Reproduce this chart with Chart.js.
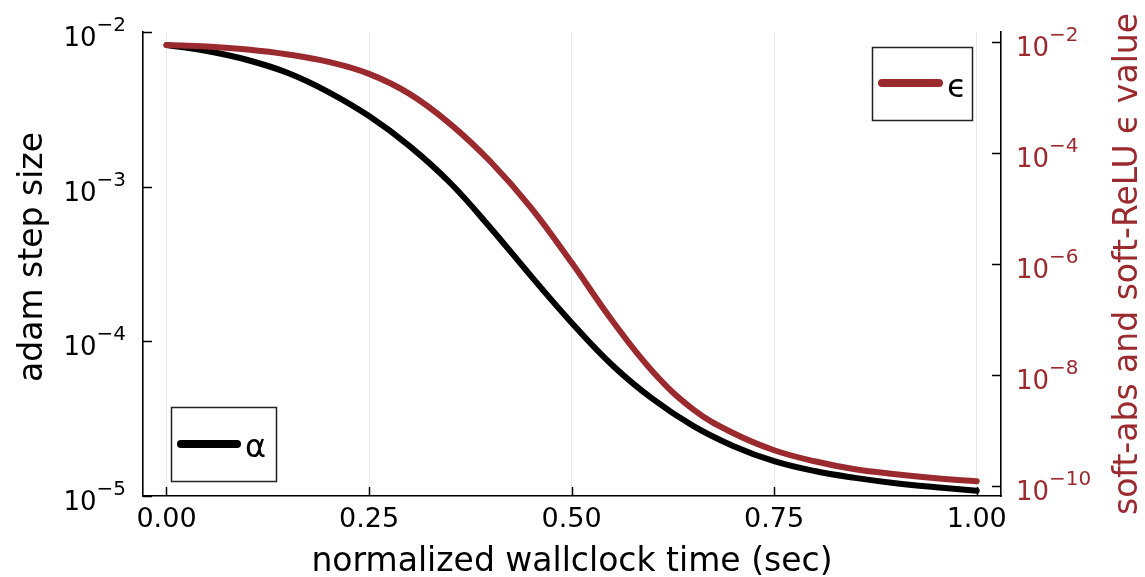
<!DOCTYPE html>
<html>
<head>
<meta charset="utf-8">
<script src="https://cdn.jsdelivr.net/npm/chart.js@4.4.1/dist/chart.umd.min.js"></script>
<style>
html,body{margin:0;padding:0;background:#fff;overflow:hidden}
#wrap{width:1145px;height:577px;position:relative}
</style>
</head>
<body>
<div id="wrap"><canvas id="c" width="1145" height="577"></canvas></div>
<script>
// ---- data ----
const timeValues = [0, 0.05, 0.10, 0.15, 0.20, 0.25, 0.30, 0.35, 0.40, 0.45, 0.50,
                    0.55, 0.60, 0.65, 0.70, 0.75, 0.80, 0.85, 0.90, 0.95, 1.00];
const alphaValues = [8.24e-3, 7.53e-3, 6.59e-3, 5.43e-3, 4.09e-3, 2.86e-3, 1.83e-3, 1.06e-3,
                     5.41e-4, 2.64e-4, 1.32e-4, 7.03e-5, 4.24e-5, 2.84e-5, 2.10e-5, 1.68e-5,
                     1.45e-5, 1.31e-5, 1.21e-5, 1.14e-5, 1.08e-5];
const epsilonValues = [8.83e-3, 8.30e-3, 7.33e-3, 5.96e-3, 4.37e-3, 2.66e-3, 1.16e-3, 3.35e-4,
                       6.95e-5, 1.03e-5, 1.06e-6, 9.59e-8, 1.16e-8, 2.41e-9, 8.91e-10, 4.41e-10,
                       2.79e-10, 2.00e-10, 1.63e-10, 1.38e-10, 1.22e-10];
const xTickValues = [0, 0.25, 0.5, 0.75, 1.0];
const xTickLabels = ['0.00', '0.25', '0.50', '0.75', '1.00'];
const leftTickExponents = [-5, -4, -3, -2];
const rightTickExponents = [-10, -8, -6, -4, -2];
const seriesNames = ['α', 'ϵ'];
const xTitle = 'normalized wallclock time (sec)';
const leftTitle = 'adam step size';
const rightTitle = 'soft-abs and soft-ReLU ϵ value';

const RED = '#9b2a2f';
const FONT = "'DejaVu Sans', sans-serif";

function sup(n) { return '\u2212' + String(Math.abs(n)); }

const decor = {
  id: 'decor',
  afterDraw(chart) {
    const ctx = chart.ctx;
    const xs = chart.scales.x, yl = chart.scales.y, yr = chart.scales.y2;
    const ca = chart.chartArea;
    ctx.save();
    // inward tick marks
    ctx.strokeStyle = '#000';
    ctx.lineWidth = 1.5;
    ctx.beginPath();
    xTickValues.forEach(v => {
      const px = Math.round(xs.getPixelForValue(v)) + 0.5;
      ctx.moveTo(px, ca.bottom); ctx.lineTo(px, ca.bottom - 9);
    });
    leftTickExponents.forEach(e => {
      const py = Math.round(yl.getPixelForValue(Math.pow(10, e))) + 0.5;
      ctx.moveTo(ca.left, py); ctx.lineTo(ca.left + 9, py);
    });
    rightTickExponents.forEach(e => {
      const py = Math.round(yr.getPixelForValue(Math.pow(10, e))) + 0.5;
      ctx.moveTo(ca.right, py); ctx.lineTo(ca.right - 9, py);
    });
    ctx.stroke();

    // y tick labels with superscript exponents
    const drawPow = (e, y, xRight, xLeft, color) => {
      ctx.fillStyle = color;
      ctx.textBaseline = 'alphabetic';
      ctx.textAlign = 'left';
      ctx.font = '26px ' + FONT;
      const bw = ctx.measureText('10').width;
      ctx.font = '20px ' + FONT;
      const ew = ctx.measureText(sup(e)).width;
      const x0 = xRight !== null ? xRight - ew - bw : xLeft;
      ctx.font = '26px ' + FONT;
      ctx.fillText('10', x0, y + 14);
      ctx.font = '20px ' + FONT;
      ctx.fillText(sup(e), x0 + bw, y - 1);
    };
    leftTickExponents.forEach(e => drawPow(e, yl.getPixelForValue(Math.pow(10, e)), 126, null, '#000'));
    rightTickExponents.forEach(e => drawPow(e, yr.getPixelForValue(Math.pow(10, e)), null, 1016, RED));

    // y titles
    ctx.font = '33px ' + FONT;
    ctx.textAlign = 'center';
    ctx.textBaseline = 'alphabetic';
    ctx.fillStyle = '#000';
    ctx.save();
    ctx.translate(42, 257);
    ctx.rotate(-Math.PI / 2);
    ctx.fillText(leftTitle, 0, 0);
    ctx.restore();
    ctx.fillStyle = RED;
    ctx.save();
    ctx.translate(1137, 264);
    ctx.rotate(-Math.PI / 2);
    ctx.fillText(rightTitle, 0, 0);
    ctx.restore();

    // legends
    const legend = (bx, by, bw, bh, color, label, ly, lx0, lx1, tx, ty) => {
      ctx.fillStyle = '#fff';
      ctx.fillRect(bx, by, bw, bh);
      ctx.strokeStyle = '#222';
      ctx.lineWidth = 1.5;
      ctx.strokeRect(bx + 0.5, by + 0.5, bw, bh);
      ctx.strokeStyle = color;
      ctx.lineWidth = 8;
      ctx.lineCap = 'round';
      ctx.beginPath(); ctx.moveTo(lx0, ly); ctx.lineTo(lx1, ly); ctx.stroke();
      ctx.fillStyle = '#000';
      ctx.font = '32px ' + FONT;
      ctx.textAlign = 'left';
      ctx.textBaseline = 'alphabetic';
      ctx.fillText(label, tx, ty);
    };
    legend(171, 407, 105, 74, '#000', seriesNames[0], 444, 181, 237, 245, 457);
    legend(872, 47, 100, 73, RED, seriesNames[1], 83, 882, 939, 947, 97);
    ctx.restore();
  }
};

const ctx = document.getElementById('c').getContext('2d');
new Chart(ctx, {
  type: 'line',
  data: {
    datasets: [
      {
        label: seriesNames[1],
        data: timeValues.map((t, i) => ({x: t, y: epsilonValues[i]})),
        yAxisID: 'y2',
        borderColor: RED,
        borderWidth: 6,
        borderCapStyle: 'round',
        borderJoinStyle: 'round',
        pointRadius: 0,
        tension: 0.4,
        fill: false,
        order: 0
      },
      {
        label: seriesNames[0],
        data: timeValues.map((t, i) => ({x: t, y: alphaValues[i]})),
        yAxisID: 'y',
        borderColor: '#000',
        borderWidth: 6,
        borderCapStyle: 'round',
        borderJoinStyle: 'round',
        pointRadius: 0,
        tension: 0.4,
        fill: false,
        order: 1
      }
    ]
  },
  options: {
    responsive: false,
    animation: false,
    devicePixelRatio: 1,
    layout: {padding: {top: 32, left: 0, right: 0, bottom: 0}},
    plugins: {legend: {display: false}, tooltip: {enabled: false}, title: {display: false}},
    scales: {
      x: {
        type: 'linear',
        position: 'bottom',
        min: -0.029,
        max: 1.03,
        afterBuildTicks: s => { s.ticks = xTickValues.map(v => ({value: v})); },
        afterFit: s => { s.height = 81; },
        ticks: {
          autoSkip: false,
          maxRotation: 0,
          padding: 8,
          color: '#000',
          font: {family: FONT, size: 27},
          callback: (v) => { const i = xTickValues.indexOf(v); return i >= 0 ? xTickLabels[i] : ''; }
        },
        grid: {display: true, color: '#e9e9e9', lineWidth: 1, drawTicks: false},
        border: {display: true, color: '#000', width: 1.6},
        title: {display: true, text: xTitle, color: '#000',
                font: {family: FONT, size: 33, lineHeight: 1}, padding: {top: 0, bottom: -2}}
      },
      y: {
        type: 'logarithmic',
        position: 'left',
        min: 1e-5,
        max: 1e-2,
        afterBuildTicks: s => { s.ticks = leftTickExponents.map(e => ({value: Math.pow(10, e)})); },
        afterFit: s => { s.width = 143; },
        ticks: {display: false},
        grid: {display: true, drawOnChartArea: false, drawTicks: false},
        border: {display: true, color: '#000', width: 1.6}
      },
      y2: {
        type: 'logarithmic',
        position: 'right',
        min: Math.pow(10, -10.18),
        max: Math.pow(10, -1.82),
        afterBuildTicks: s => { s.ticks = rightTickExponents.map(e => ({value: Math.pow(10, e)})); },
        afterFit: s => { s.width = 144; },
        ticks: {display: false},
        grid: {display: true, drawOnChartArea: false, drawTicks: false},
        border: {display: true, color: '#000', width: 1.6}
      }
    }
  },
  plugins: [decor]
});
</script>
</body>
</html>
